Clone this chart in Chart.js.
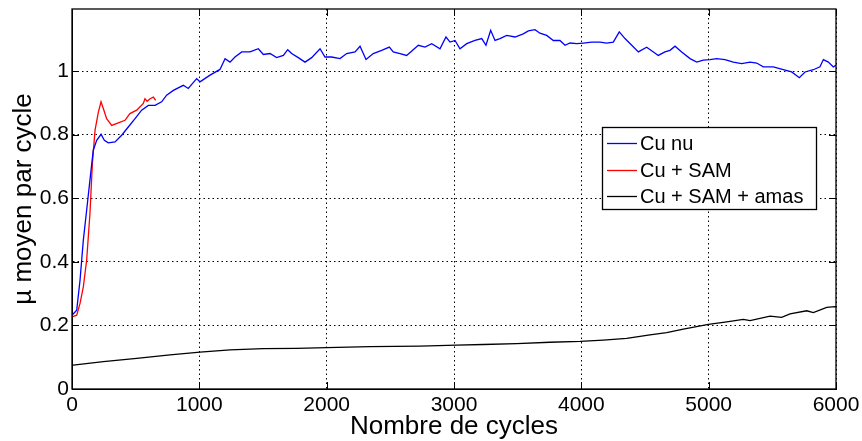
<!DOCTYPE html>
<html lang="fr">
<head>
  <meta charset="UTF-8">
  <title>µ moyen par cycle</title>
  <script src="https://cdn.jsdelivr.net/npm/chart.js"></script>
  <style>
    body {
      margin: 0;
      background-color: #ffffff;
    }
    canvas {
      display: block;
    }
  </style>
</head>
<body>
  <canvas id="muChart" width="862" height="441"></canvas>

  <script>
    // Cu nu (blue)
    const cuNuCycles = [0, 37, 63, 89, 115, 141, 167, 194, 228, 254, 285, 338, 390, 442, 495, 547, 599, 652, 704, 743,
      796, 874, 913, 979, 1005, 1084, 1162, 1202, 1241, 1280, 1333, 1398, 1463, 1503, 1555, 1607, 1660, 1694, 1725, 1777,
      1830, 1882, 1948, 1987, 2039, 2105, 2157, 2223, 2262, 2309, 2366, 2432, 2492, 2523, 2576, 2628, 2720, 2772, 2825, 2890,
      2937, 2969, 3008, 3047, 3100, 3165, 3218, 3251, 3288, 3322, 3361, 3414, 3479, 3544, 3584, 3636, 3675, 3728, 3780, 3832,
      3872, 3911, 3964, 4016, 4081, 4147, 4199, 4251, 4298, 4343, 4396, 4448, 4513, 4566, 4604, 4657, 4696, 4736, 4788, 4854,
      4906, 4958, 5011, 5063, 5128, 5194, 5259, 5325, 5377, 5429, 5508, 5586, 5652, 5712, 5757, 5822, 5874, 5901, 5940, 5979, 6000];
    const cuNuMu = [0.232, 0.248, 0.342, 0.468, 0.562, 0.657, 0.751, 0.782, 0.801, 0.782, 0.774, 0.777, 0.798, 0.824, 0.850, 0.877, 0.892, 0.892, 0.903, 0.924,
      0.939, 0.955, 0.945, 0.976, 0.966, 0.987, 1.005, 1.039, 1.028, 1.044, 1.060, 1.060, 1.070, 1.052, 1.055, 1.042, 1.049, 1.067, 1.055, 1.042,
      1.028, 1.042, 1.070, 1.044, 1.044, 1.039, 1.055, 1.060, 1.078, 1.036, 1.055, 1.065, 1.075, 1.060, 1.055, 1.049, 1.081, 1.075, 1.086, 1.070,
      1.107, 1.091, 1.096, 1.070, 1.086, 1.096, 1.102, 1.081, 1.128, 1.096, 1.102, 1.112, 1.107, 1.117, 1.126, 1.130, 1.119, 1.112, 1.096, 1.096,
      1.081, 1.088, 1.086, 1.088, 1.091, 1.091, 1.088, 1.091, 1.123, 1.102, 1.081, 1.060, 1.075, 1.060, 1.049, 1.060, 1.065, 1.078, 1.060, 1.039,
      1.028, 1.034, 1.036, 1.039, 1.036, 1.028, 1.023, 1.028, 1.025, 1.013, 1.013, 1.004, 0.997, 0.979, 0.997, 1.004, 1.013, 1.036, 1.028, 1.013, 1.018];

    // Cu + SAM (red)
    const samCycles = [0, 37, 63, 89, 115, 141, 160, 181, 207, 228, 246, 272, 312, 364, 416, 455, 508, 560, 573, 590, 613, 639, 657];
    const samMu = [0.227, 0.232, 0.269, 0.321, 0.405, 0.552, 0.709, 0.814, 0.871, 0.903, 0.882, 0.850, 0.829, 0.837, 0.845, 0.866, 0.877, 0.898, 0.913, 0.905, 0.913, 0.918, 0.908];

    // Cu + SAM + amas (black)
    const amasCycles = [0, 10, 246, 508, 770, 1005, 1241, 1503, 1765, 2000, 2340, 2733, 3021, 3230, 3492, 3754, 3990, 4173, 4356, 4539,
      4670, 4801, 4998, 5142, 5272, 5325, 5482, 5573, 5639, 5770, 5822, 5927, 5992, 6000];
    const amasMu = [0.075, 0.075, 0.086, 0.096, 0.107, 0.116, 0.123, 0.127, 0.128, 0.130, 0.133, 0.135, 0.138, 0.140, 0.143, 0.147, 0.150, 0.154, 0.159, 0.170,
      0.177, 0.188, 0.203, 0.211, 0.219, 0.215, 0.229, 0.225, 0.236, 0.246, 0.240, 0.257, 0.259, 0.258];

    const xTicks = [0, 1000, 2000, 3000, 4000, 5000, 6000];
    const yTicks = [0, 0.2, 0.4, 0.6, 0.8, 1];

    const FONT = "'Liberation Sans', Arial, sans-serif";

    function toPoints(xs, ys) {
      return xs.map((x, i) => ({ x: x, y: ys[i] }));
    }

    // box around the axes, inner tick marks and the legend
    const framePlugin = {
      id: 'frame',
      afterDraw(chart) {
        const ctx = chart.ctx;
        const a = chart.chartArea;
        const xs = chart.scales.x;
        const ys = chart.scales.y;
        const tl = 7;
        ctx.save();
        ctx.strokeStyle = '#000';
        ctx.lineWidth = 1;
        ctx.setLineDash([]);
        ctx.beginPath();
        xTicks.forEach(v => {
          const px = Math.round(xs.getPixelForValue(v)) + 0.5;
          ctx.moveTo(px, a.bottom); ctx.lineTo(px, a.bottom - tl);
          ctx.moveTo(px, a.top); ctx.lineTo(px, a.top + tl);
        });
        yTicks.forEach(v => {
          const py = Math.round(ys.getPixelForValue(v)) + 0.5;
          ctx.moveTo(a.left, py); ctx.lineTo(a.left + tl, py);
          ctx.moveTo(a.right, py); ctx.lineTo(a.right - tl, py);
        });
        ctx.stroke();
        ctx.lineWidth = 1.3;
        ctx.strokeRect(a.left, a.top, a.right - a.left, a.bottom - a.top);

        // legend
        const lx = 602, ly = 127, lw = 214, lh = 82;
        ctx.fillStyle = '#fff';
        ctx.fillRect(lx, ly, lw, lh);
        ctx.lineWidth = 1.3;
        ctx.strokeRect(lx + 0.5, ly + 0.5, lw, lh);
        ctx.font = '20px ' + FONT;
        ctx.textBaseline = 'middle';
        const rows = [143, 170, 196];
        chart.data.datasets.forEach((ds, i) => {
          ctx.strokeStyle = ds.borderColor;
          ctx.lineWidth = 1.3;
          ctx.beginPath();
          ctx.moveTo(607, rows[i] + 0.5);
          ctx.lineTo(637, rows[i] + 0.5);
          ctx.stroke();
          ctx.fillStyle = '#000';
          ctx.fillText(ds.label, 640, rows[i] + 1);
        });
        ctx.restore();
      }
    };

    const ctx = document.getElementById('muChart').getContext('2d');

    new Chart(ctx, {
      type: 'line',
      data: {
        datasets: [
          {
            label: 'Cu nu',
            data: toPoints(cuNuCycles, cuNuMu),
            borderColor: '#0000ff',
            borderWidth: 1.3,
            pointRadius: 0,
            tension: 0
          },
          {
            label: 'Cu + SAM',
            data: toPoints(samCycles, samMu),
            borderColor: '#ff0000',
            borderWidth: 1.3,
            pointRadius: 0,
            tension: 0
          },
          {
            label: 'Cu + SAM + amas',
            data: toPoints(amasCycles, amasMu),
            borderColor: '#000000',
            borderWidth: 1.3,
            pointRadius: 0,
            tension: 0
          }
        ]
      },
      options: {
        responsive: false,
        animation: false,
        layout: {
          padding: { top: 9, right: 26, left: 0, bottom: 0 }
        },
        plugins: {
          legend: { display: false },
          tooltip: { enabled: false }
        },
        scales: {
          x: {
            type: 'linear',
            min: 0,
            max: 6000,
            afterFit(scale) {
              scale.height = 52;
              scale.paddingLeft = 0;
              scale.paddingRight = 0;
            },
            afterBuildTicks(scale) { scale.ticks = xTicks.map(v => ({ value: v })); },
            ticks: {
              color: '#000',
              padding: 4,
              maxRotation: 0,
              font: { family: FONT, size: 21 },
              callback: v => String(v)
            },
            grid: {
              color: '#000',
              lineWidth: 1,
              drawTicks: false
            },
            border: { display: true, color: '#000', width: 1, dash: [1.5, 3] },
            title: {
              display: true,
              text: 'Nombre de cycles',
              color: '#000',
              font: { family: FONT, size: 26, lineHeight: 1.1 },
              padding: { top: 0, bottom: 0 }
            }
          },
          y: {
            min: 0,
            max: 1.195,
            afterFit(scale) {
              scale.width = 72;
              scale.paddingTop = 0;
              scale.paddingBottom = 0;
            },
            afterBuildTicks(scale) { scale.ticks = yTicks.map(v => ({ value: v })); },
            ticks: {
              color: '#000',
              padding: 3,
              font: { family: FONT, size: 21 },
              callback: v => String(+v.toFixed(1))
            },
            grid: {
              color: '#000',
              lineWidth: 1,
              drawTicks: false
            },
            border: { display: true, color: '#000', width: 1, dash: [1.5, 3] },
            title: {
              display: true,
              text: 'µ moyen par cycle',
              color: '#000',
              font: { family: FONT, size: 26, lineHeight: 1.2 },
              padding: { top: 8, bottom: 0 }
            }
          }
        }
      },
      plugins: [framePlugin]
    });
  </script>
</body>
</html>
